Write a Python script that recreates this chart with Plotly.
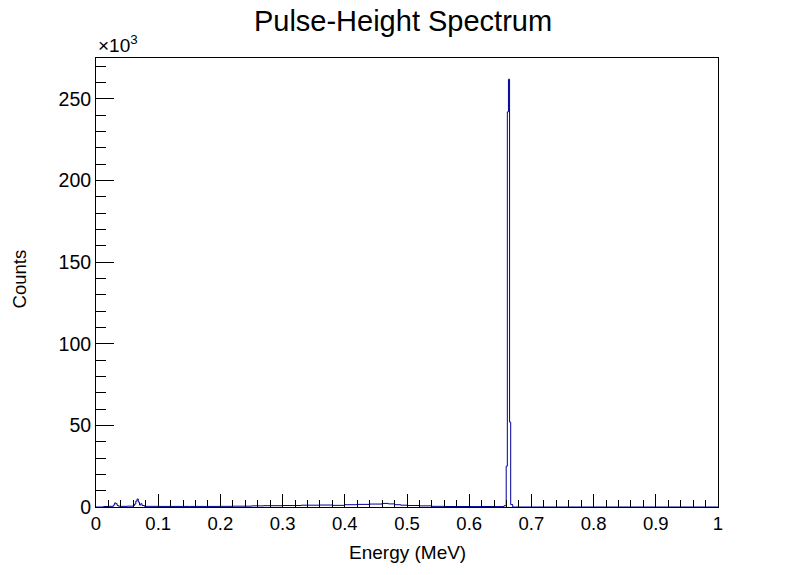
import plotly.graph_objects as go

# bin edges (MeV) and counts
edges = [0.000, 0.012, 0.020, 0.028, 0.030, 0.032, 0.034, 0.036, 0.040, 0.050,
         0.060, 0.062, 0.064, 0.066, 0.068, 0.070, 0.072, 0.074, 0.078, 0.100,
         0.150, 0.200, 0.220, 0.250, 0.270, 0.300, 0.330, 0.360, 0.380, 0.400,
         0.420, 0.440, 0.460, 0.470, 0.480, 0.490, 0.500, 0.520, 0.540, 0.560,
         0.600, 0.620, 0.640, 0.656, 0.6595, 0.6613, 0.6631, 0.6649, 0.6667,
         0.670, 1.000]
counts = [0, 300, 400, 1200, 2500, 2000, 900, 500, 400, 500,
          900, 1800, 3600, 4900, 3000, 1200, 2000, 900, 400, 350,
          350, 400, 500, 700, 800, 900, 1100, 1200, 1000, 1400,
          1600, 1800, 2200, 1900, 1400, 1100, 900, 700, 400, 300,
          250, 300, 250, 800, 25000, 242000, 262000, 52000, 1500,
          0]

y_ticks = [0, 50000, 100000, 150000, 200000, 250000]
y_labels = ["0", "50", "100", "150", "200", "250"]
x_ticks = [0, 0.1, 0.2, 0.3, 0.4, 0.5, 0.6, 0.7, 0.8, 0.9, 1]
x_labels = ["0", "0.1", "0.2", "0.3", "0.4", "0.5", "0.6", "0.7", "0.8", "0.9", "1"]

fig = go.Figure()
fig.add_trace(go.Scatter(x=edges, y=counts + [counts[-1]], mode="lines",
                         line=dict(shape="hv", color="#000099", width=1)))

font = "Liberation Sans, Arial, sans-serif"
# the page body adds an 8 px margin, so the figure is drawn 8 px smaller
fig.update_layout(
    width=790, height=567,
    margin=dict(l=88, r=80, t=50, b=68),
    paper_bgcolor="white", plot_bgcolor="white",
    showlegend=False,
    font=dict(family=font, size=19, color="black"),
    title=dict(text="Pulse-Height Spectrum", x=0.5, xanchor="center",
               y=1 - 13 / 567, yanchor="middle", font=dict(size=29)),
)
fig.update_xaxes(range=[0, 1], tickvals=x_ticks, ticktext=x_labels,
                 showgrid=False, zeroline=False, showline=True, linecolor="black",
                 linewidth=1, mirror=True, ticks="inside", ticklen=13,
                 tickcolor="black", tickfont=dict(size=18.5),
                 minor=dict(dtick=0.02, ticks="inside", ticklen=7, tickcolor="black"))
fig.update_yaxes(range=[0, 275000], tickvals=y_ticks, ticktext=y_labels,
                 showgrid=False, zeroline=False, showline=True, linecolor="black",
                 linewidth=1, mirror=True, ticks="inside", ticklen=18,
                 tickcolor="black", tickfont=dict(size=19.5),
                 minor=dict(dtick=10000, ticks="inside", ticklen=10, tickcolor="black"))

fig.add_annotation(text="Energy (MeV)", xref="paper", yref="paper",
                   x=0.5, y=-0.102, xanchor="center", yanchor="middle",
                   showarrow=False, font=dict(size=19))
fig.add_annotation(text="Counts", xref="paper", yref="paper",
                   x=-0.123, y=0.508, xanchor="center", yanchor="middle",
                   textangle=-90, showarrow=False, font=dict(size=18.5))
fig.add_annotation(text="×10<sup>3</sup>", xref="paper", yref="paper",
                   x=0, y=1.0, xanchor="left", yanchor="bottom",
                   showarrow=False, font=dict(size=19))

fig.write_html("out.html")
